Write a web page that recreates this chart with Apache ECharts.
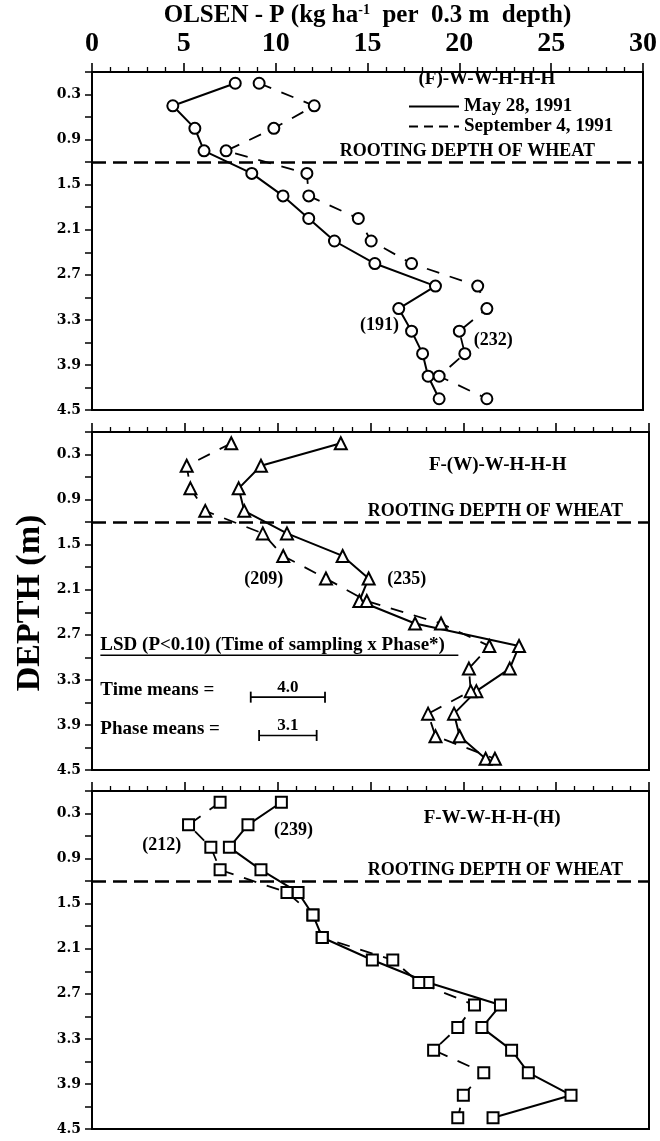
<!DOCTYPE html>
<html><head><meta charset="utf-8">
<script src="https://cdn.jsdelivr.net/npm/echarts@6/dist/echarts.min.js"></script>
<style>html,body{margin:0;padding:0;background:#fff}#c{width:660px;height:1141px}</style>
</head><body><div id="c"></div>
<script>
// ---- data ----
const depths = [0.15,0.45,0.75,1.05,1.35,1.65,1.95,2.25,2.55,2.85,3.15,3.45,3.75,4.05,4.35];
const xTicks = [0,5,10,15,20,25,30];
const dateLabels = ['May 28, 1991','September 4, 1991'];
const panelTitles = ['(F)-W-W-H-H-H','F-(W)-W-H-H-H','F-W-W-H-H-(H)'];
const p1May = [7.8,4.4,5.6,6.1,8.7,10.4,11.8,13.2,15.4,18.7,16.7,17.4,18.0,18.3,18.9];
const p1Sep = [9.1,12.1,9.9,7.3,11.7,11.8,14.5,15.2,17.4,21.0,21.5,20.0,20.3,18.9,21.5];
const p2May = [13.4,9.1,7.9,8.2,10.5,13.5,14.9,14.4,17.4,23.0,22.5,20.7,19.5,19.8,21.2];
const p2Sep = [7.5,5.1,5.3,6.1,9.2,10.3,12.6,14.8,18.8,21.4,20.3,20.4,18.1,18.5,21.7];
const p3May = [10.2,8.4,7.4,9.1,11.1,11.9,12.4,15.1,18.1,22.0,21.0,22.6,23.5,25.8,21.6];
const p3Sep = [6.9,5.2,6.4,6.9,10.5,11.9,12.4,16.2,17.6,20.6,19.7,18.4,21.1,20.0,19.7];
const rootDepth = 1.2;
const lsdTime = 4.0;
const lsdPhase = 3.1;
const sampleCounts = [['(191)','(232)'],['(209)','(235)'],['(212)','(239)']];

// ---- layout / style ----
const SERIF = '"Liberation Serif", "Times New Roman", serif';
const grids = [
  {left:92, top:72, width:557, height:338},
  {left:92, top:432, width:557, height:338},
  {left:92, top:791, width:557, height:338}
];
const symbols = ['emptyCircle','emptyTriangle','emptyRect'];
const panels = [[p1May,p1Sep],[p2May,p2Sep],[p3May,p3Sep]];
const rootLabelPad = [46, 24, 24];

const pairs = vals => vals.map((v,i)=>[v, depths[i]]);

const xAxes = grids.map((g,i)=>({
  gridIndex:i, type:'value', position:'top', min:xTicks[0], max:xTicks[xTicks.length-1], interval:xTicks[1]-xTicks[0],
  axisLine:{show:true, lineStyle:{color:'#000', width:2}},
  axisTick:{show:true, inside:false, length:9, lineStyle:{color:'#000', width:1.6}},
  minorTick:{show:true, splitNumber:5, length:5, lineStyle:{color:'#000', width:1.3}},
  splitLine:{show:false},
  axisLabel:{show:i===0, color:'#000', fontFamily:SERIF, fontWeight:'bold', fontSize:28, margin:14},
  name: i===0 ? 'OLSEN - P (kg ha{sup|-1}  per  0.3 m  depth)' : '',
  nameLocation:'middle', nameGap:44, nameMoveOverlap:false,
  nameTextStyle:{color:'#000', fontFamily:SERIF, fontWeight:'bold', fontSize:25,
    rich:{sup:{fontFamily:SERIF, fontWeight:'bold', fontSize:14, verticalAlign:'top', padding:[0,0,10,0]}}}
}));
const yAxes = grids.map((g,i)=>({
  gridIndex:i, type:'value', inverse:true, min:0, max:4.5, interval:0.3,
  axisLine:{show:true, lineStyle:{color:'#000', width:2}},
  axisTick:{show:true, inside:false, length:7, lineStyle:{color:'#000', width:1.5}},
  splitLine:{show:false},
  axisLabel:{color:'#000', fontFamily:'"DejaVu Serif", serif', fontWeight:'bold', fontSize:14, margin:11,
    formatter: v => { const k = Math.round(v*10); return (k % 6 === 3) ? (k/10).toFixed(1) : ''; }}
}));

const series = [];
panels.forEach((pp,i)=>{
  series.push({
    name: panelTitles[i]+' '+dateLabels[0], type:'line', xAxisIndex:i, yAxisIndex:i,
    data: pairs(pp[0]), symbol:symbols[i], symbolSize: i===1 ? 12 : 11,
    itemStyle:{color:'#000', borderColor:'#000', borderWidth:2},
    lineStyle:{color:'#000', width:2, type:'solid'}, z:3,
    markLine:{silent:true, symbol:['none','none'], animation:false,
      lineStyle:{color:'#000', width:2.6, type:[14,7]},
      label:{show:true, position:'insideEndTop', formatter:'ROOTING DEPTH OF WHEAT', color:'#000',
        fontFamily:SERIF, fontWeight:'bold', fontSize:18, distance:2, padding:[0, rootLabelPad[i], 0, 0]},
      data:[{yAxis: rootDepth}]}
  });
  series.push({
    name: panelTitles[i]+' '+dateLabels[1], type:'line', xAxisIndex:i, yAxisIndex:i,
    data: pairs(pp[1]), symbol:symbols[i], symbolSize: i===1 ? 12 : 11,
    itemStyle:{color:'#000', borderColor:'#000', borderWidth:2},
    lineStyle:{color:'#000', width:1.8, type:[13,11]}, z:3
  });
});
// legend carriers
series.push({name:dateLabels[0], type:'line', xAxisIndex:0, yAxisIndex:0, data:[], symbol:'none',
  lineStyle:{color:'#000', width:2, type:'solid'}});
series.push({name:dateLabels[1], type:'line', xAxisIndex:0, yAxisIndex:0, data:[], symbol:'none',
  lineStyle:{color:'#000', width:2, type:[9,6]}});
// LSD bars (panel 2)
const lsdStart = [8.55, 9.0];
const lsdDepth = [3.53, 4.04];
[lsdTime, lsdPhase].forEach((v,k)=>{
  series.push({name:'LSD'+k, type:'line', xAxisIndex:1, yAxisIndex:1,
    data:[[lsdStart[k], lsdDepth[k]],[lsdStart[k]+v, lsdDepth[k]]],
    symbol:'rect', symbolSize:[1.8,11], itemStyle:{color:'#000'},
    lineStyle:{color:'#000', width:1.6}, silent:true});
});

const option = {
  animation:false,
  backgroundColor:'#fff',
  grid: grids.map(g=>Object.assign({show:true, borderColor:'#000', borderWidth:2, backgroundColor:'transparent'}, g)),
  xAxis:xAxes, yAxis:yAxes, series,
  legend:{data:dateLabels, orient:'vertical', left:403, top:92, itemWidth:50, itemHeight:10, itemGap:1,
    itemStyle:{opacity:0},
    textStyle:{color:'#000', fontFamily:SERIF, fontWeight:'bold', fontSize:19}, selectedMode:false}
};

const chart = echarts.init(document.getElementById('c'), null, {renderer:'canvas'});
chart.setOption(option);

// ---- annotations placed through the axes' scales ----
const notes = [
  {g:0, x:21.5, d:0.1, t:panelTitles[0], fs:19},
  {g:1, x:21.85, d:0.44, t:panelTitles[1], fs:19},
  {g:2, x:21.55, d:0.36, t:panelTitles[2], fs:19},
  {g:0, x:15.65, d:3.37, t:sampleCounts[0][0], fs:18},
  {g:0, x:21.85, d:3.57, t:sampleCounts[0][1], fs:18},
  {g:1, x:9.25, d:1.96, t:sampleCounts[1][0], fs:18},
  {g:1, x:16.95, d:1.96, t:sampleCounts[1][1], fs:18},
  {g:2, x:3.75, d:0.72, t:sampleCounts[2][0], fs:18},
  {g:2, x:10.85, d:0.53, t:sampleCounts[2][1], fs:18}
];
const gr = [];
notes.forEach(n=>{
  const p = chart.convertToPixel({gridIndex:n.g}, [n.x, n.d]);
  gr.push({type:'text', x:p[0], y:p[1], style:{text:n.t, fill:'#000', font:'bold '+n.fs+'px '+SERIF, align:'center', verticalAlign:'middle'}});
});
// LSD text block
const lsdHead = chart.convertToPixel({gridIndex:1}, [0.45, 2.84]);
gr.push({type:'text', x:lsdHead[0], y:lsdHead[1], style:{text:'LSD (P<0.10) (Time of sampling x Phase*)', fill:'#000', font:'bold 19px '+SERIF, align:'left', verticalAlign:'middle'}});
gr.push({type:'line', shape:{x1:lsdHead[0], y1:lsdHead[1]+10, x2:lsdHead[0]+358, y2:lsdHead[1]+10}, style:{stroke:'#000', lineWidth:1.5}});
const tm = chart.convertToPixel({gridIndex:1}, [0.45, 3.43]);
gr.push({type:'text', x:tm[0], y:tm[1], style:{text:'Time means =', fill:'#000', font:'bold 19px '+SERIF, align:'left', verticalAlign:'middle'}});
const pm = chart.convertToPixel({gridIndex:1}, [0.45, 3.95]);
gr.push({type:'text', x:pm[0], y:pm[1], style:{text:'Phase means =', fill:'#000', font:'bold 19px '+SERIF, align:'left', verticalAlign:'middle'}});
[lsdTime, lsdPhase].forEach((v,k)=>{
  const c = chart.convertToPixel({gridIndex:1}, [lsdStart[k]+v/2, lsdDepth[k]]);
  gr.push({type:'text', x:c[0], y:c[1]-1, style:{text:v.toFixed(1), fill:'#000', font:'bold 17px '+SERIF, align:'center', verticalAlign:'bottom'}});
});
// depth axis title
gr.push({type:'text', x:30, y:603, rotation:Math.PI/2, style:{text:'DEPTH (m)', fill:'#000', font:'bold 34px '+SERIF, align:'center', verticalAlign:'middle'}});
chart.setOption({graphic:gr});
</script></body></html>
